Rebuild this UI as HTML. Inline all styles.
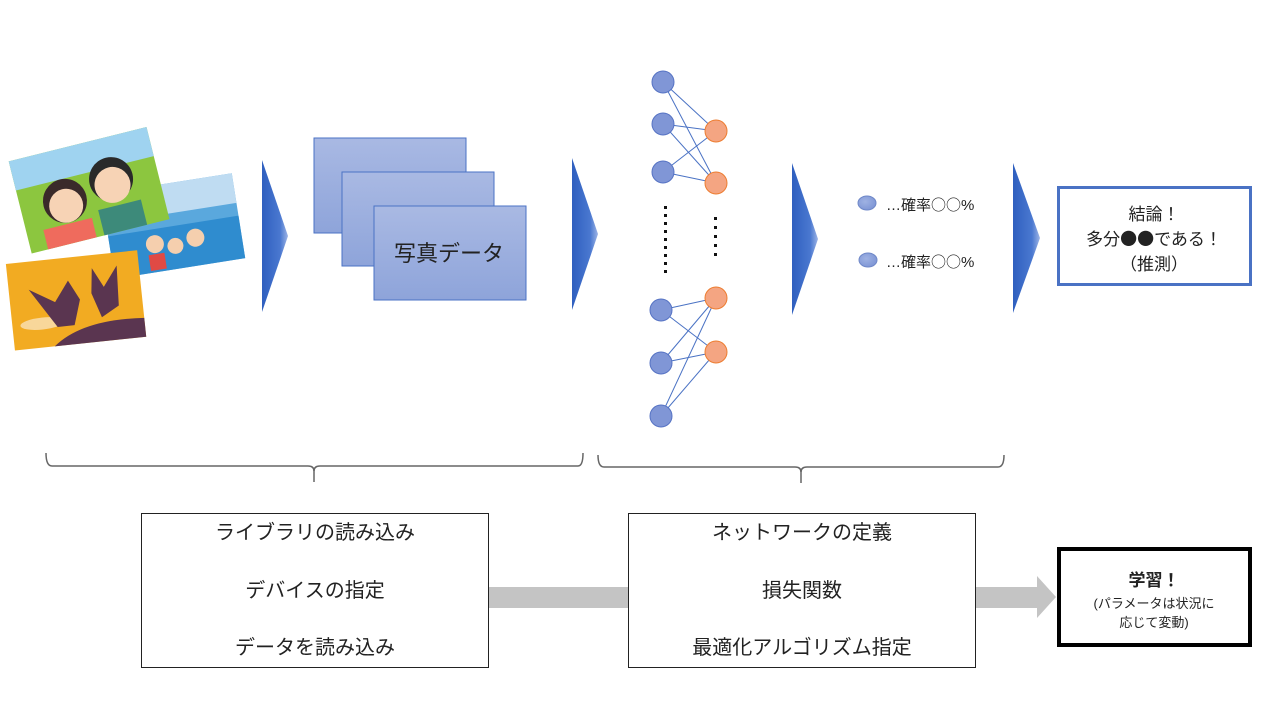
<!DOCTYPE html>
<html><head><meta charset="utf-8"><style>
html,body{margin:0;padding:0;background:#fff;}
svg{display:block;}
text{font-family:"Liberation Sans","Noto Sans CJK JP",sans-serif;fill:#222;}
.cjk{font-family:"Noto Sans CJK JP",sans-serif;}
</style></head><body>
<svg width="1280" height="720" viewBox="0 0 1280 720" xmlns="http://www.w3.org/2000/svg">
<defs>
<linearGradient id="tri" x1="0" y1="0" x2="1" y2="0">
<stop offset="0" stop-color="#2f5fbf"/><stop offset="0.7" stop-color="#4a78d0"/><stop offset="1" stop-color="#9db4e6"/></linearGradient>
<linearGradient id="rect" x1="0" y1="0" x2="0" y2="1">
<stop offset="0" stop-color="#a9b9e3"/><stop offset="1" stop-color="#8ea4da"/></linearGradient>
<radialGradient id="bn" cx="0.4" cy="0.4" r="0.7"><stop offset="0" stop-color="#9fb2e3"/><stop offset="1" stop-color="#7b93d4"/></radialGradient>
</defs>

<g transform="rotate(-9 180 230)">
<rect x="108" y="182" width="132" height="86" fill="#5aa8dd"/>
<rect x="108" y="225" width="132" height="43" fill="#2f8ccf"/>
<rect x="108" y="182" width="132" height="30" fill="#bfdcf2"/>
<circle cx="153" cy="240" r="9" fill="#f5cfae"/><circle cx="173" cy="245" r="8" fill="#f5cfae"/><circle cx="194" cy="240" r="9" fill="#f5cfae"/>
<rect x="145" y="250" width="16" height="16" fill="#e04a45"/>
</g>
<g transform="rotate(-14 88 190)">
<rect x="18" y="143" width="142" height="95" fill="#8cc63f"/>
<rect x="18" y="143" width="142" height="30" fill="#9fd3f0"/>
<circle cx="63" cy="195" r="22" fill="#3a2a2a"/><circle cx="63" cy="200" r="17" fill="#f7d3b5"/>
<circle cx="113" cy="185" r="22" fill="#2a2a2a"/><circle cx="113" cy="191" r="18" fill="#f7d3b5"/>
<rect x="93" y="212" width="44" height="26" fill="#3d8a7a"/>
<rect x="35" y="218" width="50" height="20" fill="#ef6b5d"/>
</g>
<g transform="rotate(-6 75 300)">
<rect x="10" y="257" width="132" height="87" fill="#f2ab22"/>
<ellipse cx="40" cy="320" rx="22" ry="6" fill="#f8d79a"/>
<path d="M30 285 L55 300 L70 280 L80 300 L72 325 L55 325 Z" fill="#5a3550"/>
<path d="M95 270 L105 290 L120 270 L118 310 L100 320 L92 295 Z" fill="#5a3550"/>
<path d="M50 344 Q80 320 142 325 L142 344 Z" fill="#5a3550"/>
</g>

<polygon points="262,160 288,236 262,312" fill="url(#tri)"/>
<polygon points="572,158 598,234 572,310" fill="url(#tri)"/>
<polygon points="792,163 818,239 792,315" fill="url(#tri)"/>
<polygon points="1013,163 1040,238 1013,313" fill="url(#tri)"/>

<rect x="314" y="138" width="152" height="95" fill="url(#rect)" stroke="#4a72c4" stroke-width="1"/>
<rect x="342" y="172" width="152" height="94" fill="url(#rect)" stroke="#4a72c4" stroke-width="1"/>
<rect x="374" y="206" width="152" height="94" fill="url(#rect)" stroke="#4a72c4" stroke-width="1"/>
<text x="449" y="261" font-size="22" text-anchor="middle">写真データ</text>

<g stroke="#4a72c4" stroke-width="1">
<line x1="663" y1="82" x2="716" y2="131"/><line x1="663" y1="82" x2="716" y2="183"/>
<line x1="663" y1="124" x2="716" y2="131"/><line x1="663" y1="124" x2="716" y2="183"/>
<line x1="663" y1="172" x2="716" y2="131"/><line x1="663" y1="172" x2="716" y2="183"/>
<line x1="661" y1="310" x2="716" y2="298"/><line x1="661" y1="310" x2="716" y2="352"/>
<line x1="661" y1="363" x2="716" y2="298"/><line x1="661" y1="363" x2="716" y2="352"/>
<line x1="661" y1="416" x2="716" y2="298"/><line x1="661" y1="416" x2="716" y2="352"/>
</g>
<g fill="#8096d6" stroke="#5673c4" stroke-width="1">
<circle cx="663" cy="82" r="11"/><circle cx="663" cy="124" r="11"/><circle cx="663" cy="172" r="11"/>
<circle cx="661" cy="310" r="11"/><circle cx="661" cy="363" r="11"/><circle cx="661" cy="416" r="11"/>
</g>
<g fill="#f4a582" stroke="#ed7d31" stroke-width="1">
<circle cx="716" cy="131" r="11"/><circle cx="716" cy="183" r="11"/><circle cx="716" cy="298" r="11"/><circle cx="716" cy="352" r="11"/>
</g>
<g fill="#111">
<rect x="664" y="206" width="3" height="3"/><rect x="664" y="214" width="3" height="3"/><rect x="664" y="222" width="3" height="3"/><rect x="664" y="230" width="3" height="3"/><rect x="664" y="238" width="3" height="3"/><rect x="664" y="246" width="3" height="3"/><rect x="664" y="254" width="3" height="3"/><rect x="664" y="262" width="3" height="3"/><rect x="664" y="270" width="3" height="3"/>
<rect x="714" y="217" width="3" height="3"/><rect x="714" y="226" width="3" height="3"/><rect x="714" y="235" width="3" height="3"/><rect x="714" y="244" width="3" height="3"/><rect x="714" y="253" width="3" height="3"/>
</g>

<ellipse cx="867" cy="203" rx="9" ry="7" fill="url(#bn)" stroke="#6f88c8"/>
<ellipse cx="868" cy="260" rx="9" ry="7" fill="url(#bn)" stroke="#6f88c8"/>
<text x="886" y="210" font-size="15">…確率<tspan class="cjk">○○</tspan>%</text>
<text x="886" y="267" font-size="15">…確率<tspan class="cjk">○○</tspan>%</text>

<rect x="1058.5" y="187.5" width="192" height="97" fill="#fff" stroke="#4a72c4" stroke-width="3"/>
<text x="1154" y="220" font-size="17" text-anchor="middle">結論！</text>
<text x="1154" y="245" font-size="17" text-anchor="middle">多分<tspan class="cjk">●●</tspan>である！</text>
<text x="1154" y="270" font-size="17" text-anchor="middle">（推測）</text>

<g fill="none" stroke="#666" stroke-width="1.5">
<path d="M46 453 Q46 466 52 466 L308 466 Q314 466 314 471 Q314 466 320 466 L578 466 Q583 466 583 453"/>
<line x1="314" y1="470" x2="314" y2="482"/>
<path d="M598 455 Q598 467 604 467 L795 467 Q801 467 801 472 Q801 467 807 467 L998 467 Q1004 467 1004 455"/>
<line x1="801" y1="471" x2="801" y2="483"/>
</g>

<rect x="488" y="587" width="140" height="21" fill="#c4c4c4"/>
<polygon points="975,587 1037,587 1037,576 1056,597 1037,618 1037,608 975,608" fill="#c4c4c4"/>

<rect x="141.5" y="513.5" width="347" height="154" fill="#fff" stroke="#222" stroke-width="1"/>
<text x="315" y="539" font-size="20" text-anchor="middle">ライブラリの読み込み</text>
<text x="315" y="597" font-size="20" text-anchor="middle">デバイスの指定</text>
<text x="315" y="654" font-size="20" text-anchor="middle">データを読み込み</text>

<rect x="628.5" y="513.5" width="347" height="154" fill="#fff" stroke="#222" stroke-width="1"/>
<text x="802" y="539" font-size="20" text-anchor="middle">ネットワークの定義</text>
<text x="802" y="597" font-size="20" text-anchor="middle">損失関数</text>
<text x="802" y="654" font-size="20" text-anchor="middle">最適化アルゴリズム指定</text>

<rect x="1059" y="549" width="191" height="96" fill="#fff" stroke="#000" stroke-width="4"/>
<text x="1154" y="586" font-size="17" font-weight="bold" text-anchor="middle">学習！</text>
<text x="1154" y="608" font-size="13" text-anchor="middle">(パラメータは状況に</text>
<text x="1154" y="627" font-size="13" text-anchor="middle">応じて変動)</text>
</svg>
</body></html>
